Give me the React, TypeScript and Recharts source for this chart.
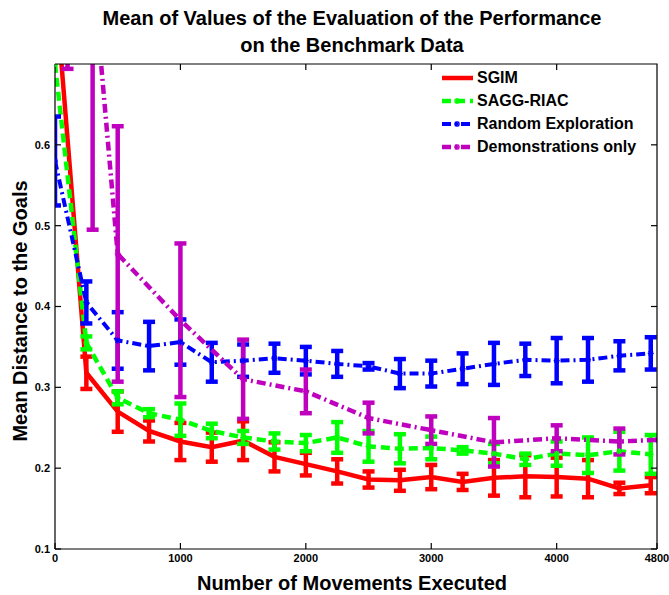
import { LineChart, Line, XAxis, YAxis, ErrorBar, Legend } from "recharts"

// movements executed at which the evaluation was run
const steps = [0, 250, 500, 750, 1000, 1250, 1500, 1750, 2000, 2250, 2500, 2750, 3000, 3250, 3500, 3750, 4000, 4250, 4500, 4750]
const demoSteps = [100, 300, 500, 1000, 1500, 2000, 2500, 3000, 3500, 4000, 4500, 4800]

const sgimMean = [0.8, 0.318, 0.27, 0.246, 0.233, 0.226, 0.234, 0.214, 0.205, 0.196, 0.186, 0.185, 0.189, 0.183, 0.188, 0.19, 0.189, 0.187, 0.175, 0.179]
const sgimErr = [0, 0.02, 0.025, 0.013, 0.023, 0.018, 0.024, 0.018, 0.014, 0.015, 0.01, 0.013, 0.015, 0.01, 0.022, 0.026, 0.024, 0.023, 0.007, 0.01]

const saggMean = [0.7, 0.355, 0.287, 0.268, 0.26, 0.246, 0.238, 0.233, 0.231, 0.238, 0.227, 0.224, 0.225, 0.222, 0.218, 0.211, 0.218, 0.216, 0.221, 0.217]
const saggErr = [0, 0.008, 0.008, 0.005, 0.02, 0.009, 0.008, 0.01, 0.01, 0.019, 0.019, 0.018, 0.014, 0.004, 0.012, 0.007, 0.015, 0.022, 0.024, 0.024]

const randMean = [0.58, 0.405, 0.358, 0.351, 0.356, 0.331, 0.333, 0.336, 0.333, 0.329, 0.326, 0.317, 0.317, 0.323, 0.329, 0.334, 0.333, 0.334, 0.339, 0.342]
const randErr = [0.055, 0.026, 0.035, 0.03, 0.028, 0.024, 0.02, 0.018, 0.017, 0.016, 0.004, 0.018, 0.016, 0.019, 0.026, 0.02, 0.028, 0.027, 0.018, 0.02]

const demoMean = [1.0, 0.82, 0.465, 0.383, 0.31, 0.295, 0.262, 0.247, 0.232, 0.237, 0.233, 0.235]
const demoErr = [0.306, 0.325, 0.158, 0.095, 0.049, 0.027, 0.019, 0.017, 0.03, 0.016, 0.016, 0]

const xTicks = [0, 1000, 2000, 3000, 4000, 4800]
const xTopTicks = [1000, 2000, 3000, 4000]
const yTicks = [0.1, 0.2, 0.3, 0.4, 0.5, 0.6]

const FONT = '"Liberation Sans", Arial, Helvetica, sans-serif'

// chart geometry
const W = 669
const H = 595
const MARGIN = { top: 64, right: 12, bottom: 0, left: 0 }
const Y_AXIS_W = 55
const X_AXIS_H = 46
const PLOT = {
  left: MARGIN.left + Y_AXIS_W,
  top: MARGIN.top,
  right: W - MARGIN.right,
  bottom: H - MARGIN.bottom - X_AXIS_H,
}
const TICK = 6
const AXIS_COLOR = "#000"

const toRows = (xs: number[], means: number[], errs: number[]) =>
  xs.map((x, i) => ({ x, y: means[i], err: errs[i] }))

const series = [
  { name: "SGIM", data: toRows(steps, sgimMean, sgimErr), color: "#ff0000", dash: undefined, width: 4.5, star: false },
  { name: "SAGG-RIAC", data: toRows(steps, saggMean, saggErr), color: "#00ff00", dash: "9 5", width: 4.5, star: true },
  { name: "Random Exploration", data: toRows(steps, randMean, randErr), color: "#0000ff", dash: "9 4 2 4", width: 4, star: true },
  { name: "Demonstrations only", data: toRows(demoSteps, demoMean, demoErr), color: "#bf00bf", dash: "9 4 2 4", width: 4.5, star: true },
]

// recharts does not clip error bars to the plot, so do it by hand
const clipCss = `.recharts-errorBars, .recharts-errorBar { clip-path: url(#plot-clip); }`

function Star(props: any) {
  const { cx, cy, stroke } = props
  if (cx == null || cy == null) return null
  const r = 3
  return (
    <g stroke={stroke} strokeWidth={1.4}>
      <line x1={cx - r} y1={cy} x2={cx + r} y2={cy} />
      <line x1={cx} y1={cy - r} x2={cx} y2={cy + r} />
      <line x1={cx - 2.2} y1={cy - 2.2} x2={cx + 2.2} y2={cy + 2.2} />
      <line x1={cx - 2.2} y1={cy + 2.2} x2={cx + 2.2} y2={cy - 2.2} />
    </g>
  )
}

const tickText = { fontFamily: FONT, fontSize: 11, fontWeight: 700, fill: "#000" }

// bottom label + inward tick, plus the matching inward tick on the top edge
function BottomTick({ x, y, payload }: any) {
  return (
    <g>
      <line x1={x} y1={PLOT.bottom} x2={x} y2={PLOT.bottom - TICK} stroke={AXIS_COLOR} strokeWidth={1.2} />
      {xTopTicks.includes(payload.value) && (
        <line x1={x} y1={PLOT.top} x2={x} y2={PLOT.top + TICK} stroke={AXIS_COLOR} strokeWidth={1.2} />
      )}
      <text x={x} y={y} dy="0.71em" textAnchor="middle" {...tickText}>{payload.value}</text>
    </g>
  )
}

// left label + inward tick, plus the matching inward tick on the right edge
function LeftTick({ x, y, payload }: any) {
  return (
    <g>
      <line x1={PLOT.left} y1={y} x2={PLOT.left + TICK} y2={y} stroke={AXIS_COLOR} strokeWidth={1.2} />
      <line x1={PLOT.right} y1={y} x2={PLOT.right - TICK} y2={y} stroke={AXIS_COLOR} strokeWidth={1.2} />
      <text x={x} y={y} dy="0.355em" textAnchor="end" {...tickText}>{payload.value}</text>
    </g>
  )
}

function LegendBox({ payload }: any) {
  const names = (payload ?? []).map((p: any) => p.value)
  const items = series.filter((s) => names.includes(s.name))
  return (
    <div style={{ fontFamily: FONT, fontSize: 16, fontWeight: 700, color: "#000" }}>
      {items.map((s) => (
        <div key={s.name} style={{ display: "flex", alignItems: "center", height: 23 }}>
          <svg width={36} height={12} style={{ marginRight: 1 }}>
            <line x1={2} y1={6} x2={33} y2={6} stroke={s.color} strokeWidth={s.width} strokeDasharray={s.dash} />
            {s.star && <Star cx={17} cy={6} stroke={s.color} />}
          </svg>
          <span>{s.name}</span>
        </div>
      ))}
    </div>
  )
}

export default function App() {
  return (
    <div style={{ position: "absolute", left: 0, top: 0, width: W, height: H, background: "#fff", fontFamily: FONT }}>
      <style>{clipCss}</style>
      <svg width={0} height={0} style={{ position: "absolute" }}>
        <defs>
          <clipPath id="plot-clip" clipPathUnits="userSpaceOnUse">
            <rect x={PLOT.left} y={PLOT.top} width={PLOT.right - PLOT.left} height={PLOT.bottom - PLOT.top} />
          </clipPath>
        </defs>
      </svg>
      <div style={{ position: "absolute", left: 52, top: 5, width: 600, textAlign: "center", fontSize: 20, fontWeight: 700, lineHeight: "27px" }}>
        Mean of Values of the Evaluation of the Performance
        <br />
        on the Benchmark Data
      </div>
      <LineChart width={W} height={H} margin={MARGIN}>
        <XAxis
          dataKey="x"
          type="number"
          domain={[0, 4800]}
          allowDataOverflow
          ticks={xTicks}
          interval={0}
          height={X_AXIS_H}
          tickSize={0}
          tickMargin={5}
          tickLine={false}
          axisLine={{ stroke: AXIS_COLOR, strokeWidth: 1.2 }}
          tick={<BottomTick />}
        />
        <YAxis
          type="number"
          domain={[0.1, 0.7]}
          allowDataOverflow
          ticks={yTicks}
          interval={0}
          width={Y_AXIS_W}
          tickSize={0}
          tickMargin={5}
          tickLine={false}
          axisLine={{ stroke: AXIS_COLOR, strokeWidth: 1.2 }}
          tick={<LeftTick />}
        />
        {series.map((s) => (
          <Line
            key={s.name}
            name={s.name}
            data={s.data}
            dataKey="y"
            type="linear"
            stroke={s.color}
            strokeWidth={s.width}
            strokeDasharray={s.dash}
            dot={s.star ? <Star /> : false}
            activeDot={false}
            isAnimationActive={false}
          >
            <ErrorBar dataKey="err" width={6} stroke={s.color} strokeWidth={4.5} direction="y" isAnimationActive={false} />
          </Line>
        ))}
        <Legend
          layout="horizontal"
          verticalAlign="middle"
          align="center"
          content={<LegendBox />}
          wrapperStyle={{ left: 440, top: 66, width: "auto" }}
        />
      </LineChart>
      {/* top and right edges of the axes box */}
      <svg
        width={W}
        height={H}
        style={{ position: "absolute", left: 0, top: 0, pointerEvents: "none", zIndex: 5 }}
      >
        <polyline
          points={`${PLOT.left},${PLOT.top} ${PLOT.right},${PLOT.top} ${PLOT.right},${PLOT.bottom}`}
          fill="none"
          stroke={AXIS_COLOR}
          strokeWidth={1.2}
        />
      </svg>
      <div style={{ position: "absolute", left: 152, top: 571, width: 400, textAlign: "center", fontSize: 20, fontWeight: 700, lineHeight: "24px" }}>
        Number of Movements Executed
      </div>
      <div
        style={{
          position: "absolute",
          left: 20 - 200,
          top: 311 - 12,
          width: 400,
          textAlign: "center",
          fontSize: 20,
          fontWeight: 700,
          lineHeight: "24px",
          transform: "rotate(-90deg)",
        }}
      >
        Mean Distance to the Goals
      </div>
    </div>
  )
}
